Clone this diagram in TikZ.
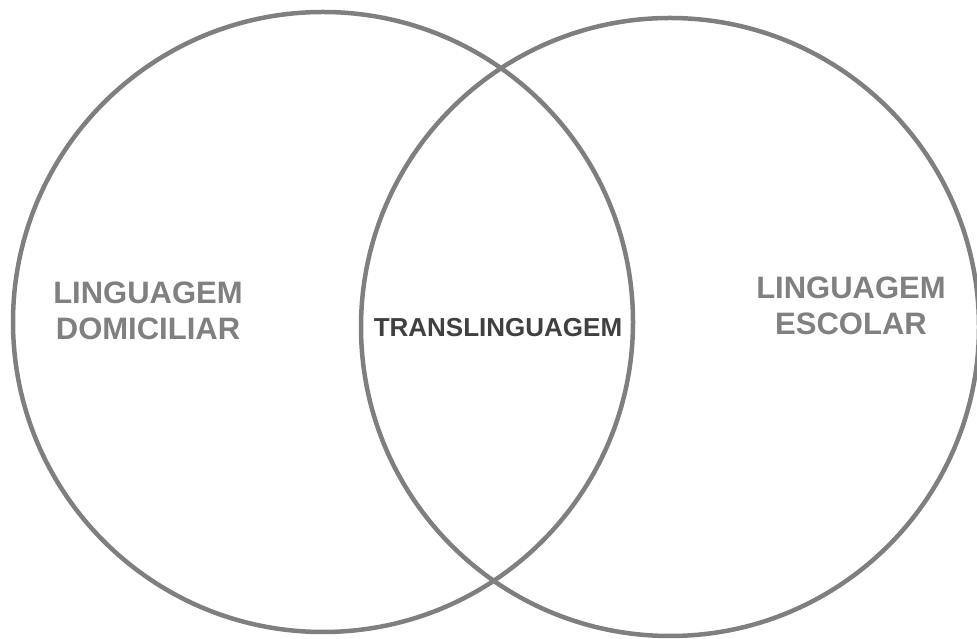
\documentclass[tikz,border=0pt]{standalone}
\usepackage{fontspec}
\setmainfont{Liberation Sans}
\definecolor{ringgray}{HTML}{7F7F7F}
\definecolor{textgray}{HTML}{808080}
\definecolor{darkgray}{HTML}{404040}
\begin{document}
\begin{tikzpicture}[x=1pt,y=1pt,
    ring/.style = {draw=ringgray, line width=4.5pt, circle, minimum size=#1, inner sep=0pt},
    outer/.style = {text=textgray, font=\fontsize{31}{36}\selectfont\bfseries, align=center, inner sep=0pt},
    inner/.style = {text=darkgray, font=\fontsize{26}{30}\selectfont\bfseries, inner sep=0pt}]
    \useasboundingbox (0,0) rectangle (977,639);
    \node[ring=620pt] (home) at (323,317) {};
    \node[ring=618pt] (school) at (670,312) {};
    \node[outer] (homelbl) at (148,328) {LINGUAGEM\\DOMICILIAR};
    \node[outer] (schoollbl) at (851,333) {LINGUAGEM\\ESCOLAR};
    \node[inner, anchor=base] (translbl) at (498,302) {TRANSLINGUAGEM};
    %\draw (home) -- (school);
\end{tikzpicture}
\end{document}
